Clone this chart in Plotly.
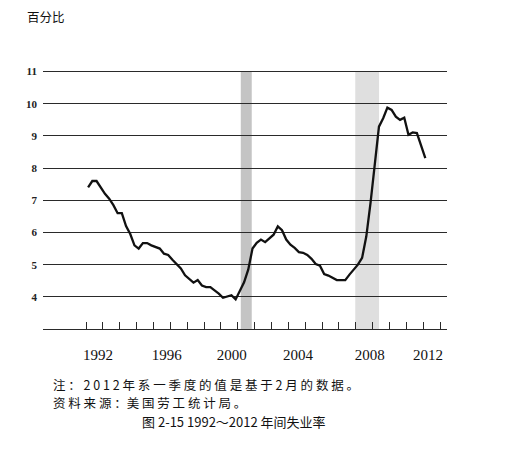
import plotly.graph_objects as go

# ---------------- data ----------------
start_year = 1992
unemployment = [
    7.4, 7.6, 7.6, 7.4,      # 1992
    7.2, 7.05, 6.85, 6.6,    # 1993
    6.6, 6.2, 5.95, 5.6,     # 1994
    5.5, 5.67, 5.67, 5.6,    # 1995
    5.55, 5.5, 5.34, 5.3,    # 1996
    5.15, 5.0, 4.88, 4.67,   # 1997
    4.55, 4.44, 4.52, 4.35,  # 1998
    4.3, 4.3, 4.2, 4.1,      # 1999
    3.97, 4.0, 4.05, 3.92,   # 2000
    4.2, 4.45, 4.85, 5.5,    # 2001
    5.68, 5.78, 5.7, 5.83,   # 2002
    5.93, 6.19, 6.07, 5.78,  # 2003
    5.62, 5.52, 5.39, 5.37,  # 2004
    5.3, 5.18, 5.02, 4.97,   # 2005
    4.71, 4.66, 4.6, 4.52,   # 2006
    4.52, 4.52, 4.69, 4.85,  # 2007
    5.0, 5.21, 5.88, 6.92,   # 2008
    8.16, 9.29, 9.55, 9.88,  # 2009
    9.81, 9.6, 9.5, 9.57,    # 2010
    9.04, 9.11, 9.09, 8.73,  # 2011
    8.31,                    # 2012 Q1
]
recession_start = [2001.18, 2007.97]
recession_end = [2001.83, 2009.38]
recession_fill = ["#c4c4c4", "#dfdfdf"]
year_labels = ["1992", "1996", "2000", "2004", "2008", "2012"]
year_label_pos = [1992.71, 1996.79, 2000.64, 2004.57, 2008.83, 2012.28]
y_ticks = [4, 5, 6, 7, 8, 9, 10, 11]
year_bounds = list(range(1992, 2014))

# quarter mid-points as decimal years
x_vals = [start_year + i / 4 + 0.125 for i in range(len(unemployment))]

fig = go.Figure()
fig.add_trace(go.Scatter(
    x=x_vals, y=unemployment, mode="lines",
    line=dict(color="#111111", width=2.3),
    hoverinfo="skip", showlegend=False,
))

for s, e, c in zip(recession_start, recession_end, recession_fill):
    fig.add_shape(type="rect", xref="x", yref="y", x0=s, x1=e, y0=3, y1=11,
                  fillcolor=c, line=dict(width=0), layer="below")

# layout geometry (figure pixels; the page adds an 8px body offset)
OFF = 8
plot_left, plot_right = 43 - OFF, 447 - OFF
plot_bottom = 329.5 - OFF
unit = 257.5 / 8.0
y_top = 11.05
plot_top = plot_bottom - (y_top - 3) * unit
plot_w = plot_right - plot_left
plot_h = plot_bottom - plot_top


def px(xpage):
    return (xpage - OFF - plot_left) / plot_w


def py(ypage):
    return (plot_bottom - (ypage - OFF)) / plot_h


cjk = "Noto Sans CJK SC"
fig.update_layout(
    width=514, height=474,
    margin=dict(l=plot_left, r=514 - plot_right, t=plot_top, b=474 - plot_bottom),
    paper_bgcolor="white", plot_bgcolor="white",
    showlegend=False,
    xaxis=dict(
        range=[1989.45, 2013.41],
        tickmode="array", tickvals=year_label_pos, ticktext=year_labels,
        ticks="", showgrid=False, zeroline=False,
        showline=True, linecolor="#2a2a2a", linewidth=1.3,
        tickfont=dict(family="Liberation Serif", size=15, color="#111"),
        ticklabelstandoff=12,
        minor=dict(tickmode="array", tickvals=year_bounds, ticks="inside",
                   ticklen=7, tickwidth=1.2, tickcolor="#2a2a2a", showgrid=False),
    ),
    yaxis=dict(
        range=[3, y_top],
        tickmode="array", tickvals=y_ticks, ticktext=[str(v) for v in y_ticks],
        ticks="", showgrid=True, gridcolor="#2a2a2a", gridwidth=1.3,
        zeroline=False, showline=False,
        tickfont=dict(family="Liberation Serif", size=11, color="#222", weight="bold"),
        ticklabelstandoff=5,
    ),
    annotations=[
        dict(text="百分比", xref="paper", yref="paper", x=px(25), y=py(17),
             xanchor="left", yanchor="middle", showarrow=False,
             font=dict(family=cjk, size=12.5, color="#111")),
        dict(text="注 ： 2 0 1 2 年 系 一 季 度 的 值 是 基 于 2 月 的 数 据 。",
             xref="paper", yref="paper", x=px(51), y=py(385),
             xanchor="left", yanchor="middle", showarrow=False,
             font=dict(family=cjk, size=12.5, color="#111")),
        dict(text="资 料 来 源 ：美 国 劳 工 统 计 局 。",
             xref="paper", yref="paper", x=px(51), y=py(403),
             xanchor="left", yanchor="middle", showarrow=False,
             font=dict(family=cjk, size=12.5, color="#111")),
        dict(text="图 2-15 1992～2012 年间失业率",
             xref="paper", yref="paper", x=px(234), y=py(422),
             xanchor="center", yanchor="middle", showarrow=False,
             font=dict(family=cjk, size=13, color="#111")),
    ],
)

fig.write_html("out.html")
